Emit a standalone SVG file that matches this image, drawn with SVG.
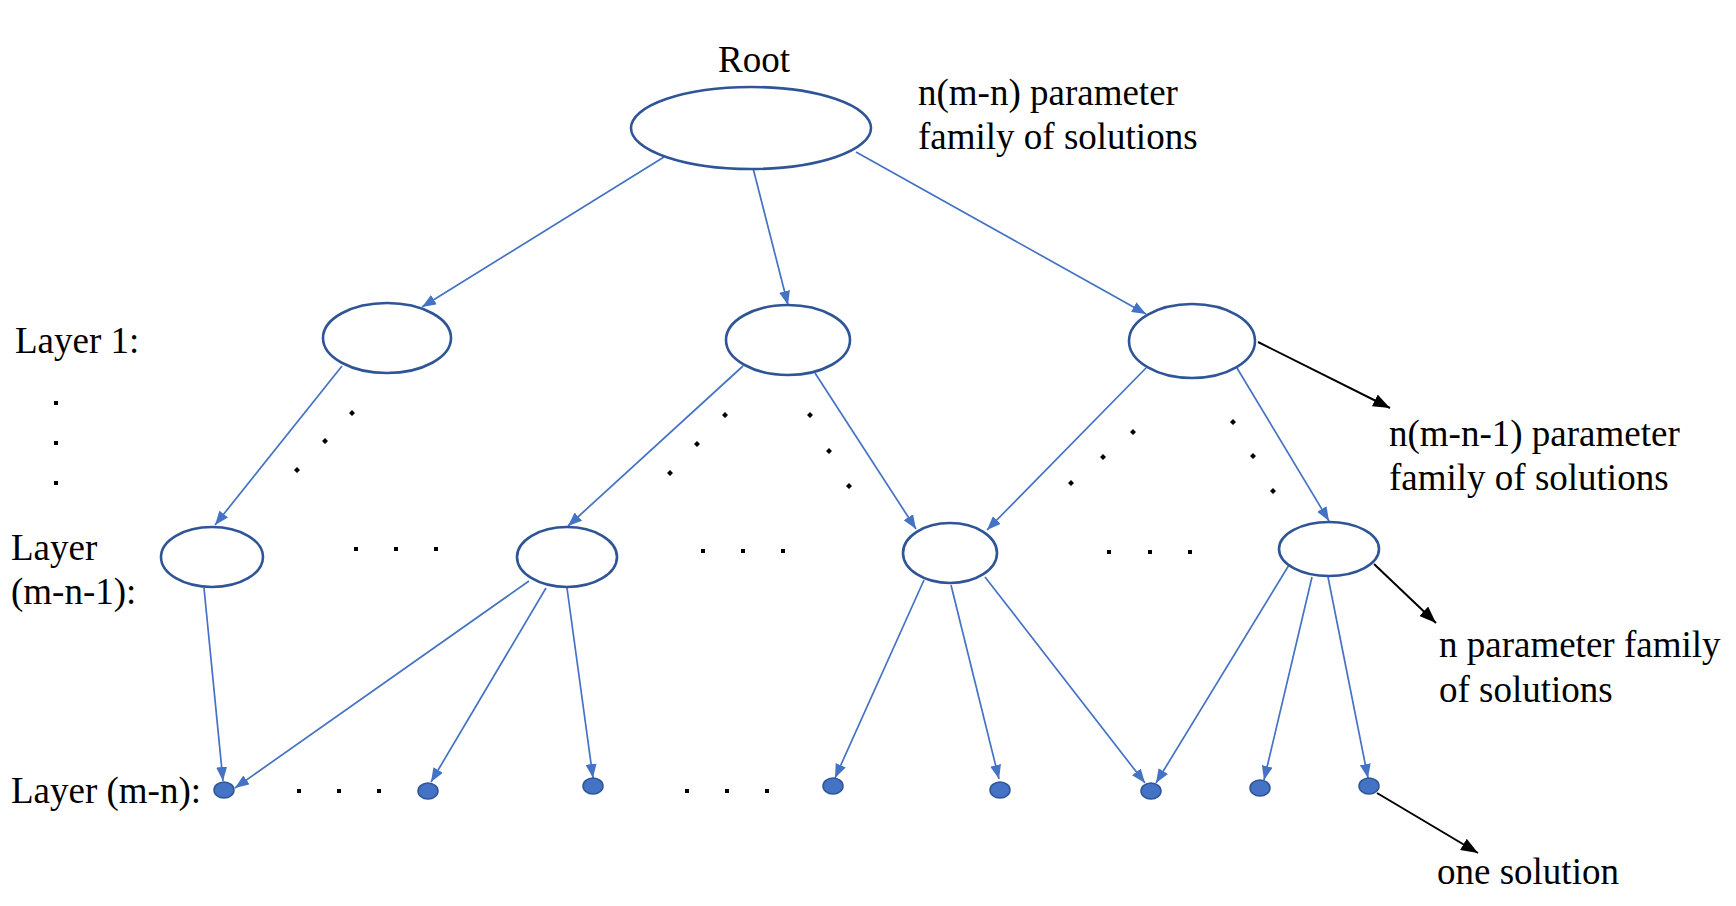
<svg xmlns="http://www.w3.org/2000/svg" width="1736" height="906" viewBox="0 0 1736 906">
<style>
.nd{fill:#ffffff;stroke:#2F5597;stroke-width:2.6}
.lf{fill:#4472C4;stroke:#2F5597;stroke-width:1.5}
.c{stroke:#4472C4;stroke-width:1.7;fill:none;marker-end:url(#ab)}
.k{stroke:#000;stroke-width:2;fill:none;marker-end:url(#ak)}
.t{font-family:"Liberation Serif","Times New Roman",serif;font-size:37px;fill:#000}
.d{fill:#000}
</style>
<defs>
<marker id="ab" markerUnits="userSpaceOnUse" markerWidth="15" markerHeight="11" refX="14" refY="5.5" orient="auto">
<path d="M0,0 L14,5.5 L0,11 z" fill="#4472C4"/>
</marker>
<marker id="ak" markerUnits="userSpaceOnUse" markerWidth="18" markerHeight="13" refX="17" refY="6.5" orient="auto">
<path d="M0,0 L17,6.5 L0,13 z" fill="#000"/>
</marker>
</defs>
<rect width="1736" height="906" fill="#fff"/>

<g id="connectors">
<line class="c" x1="664" y1="157" x2="422" y2="307"/>
<line class="c" x1="753" y1="168" x2="788" y2="305"/>
<line class="c" x1="856" y1="152" x2="1146" y2="314"/>
<line class="c" x1="342" y1="366" x2="215" y2="525"/>
<line class="c" x1="743" y1="366" x2="568" y2="526"/>
<line class="c" x1="815" y1="373" x2="916" y2="529"/>
<line class="c" x1="1146" y1="368" x2="987" y2="530"/>
<line class="c" x1="1237" y1="368" x2="1329" y2="521"/>
<line class="c" x1="204" y1="588" x2="223" y2="781"/>
<line class="c" x1="529" y1="581" x2="235" y2="788"/>
<line class="c" x1="546" y1="588" x2="431" y2="782"/>
<line class="c" x1="567" y1="588" x2="593" y2="778"/>
<line class="c" x1="924" y1="580" x2="835" y2="778"/>
<line class="c" x1="951" y1="585" x2="999" y2="779"/>
<line class="c" x1="985" y1="577" x2="1145" y2="783"/>
<line class="c" x1="1289" y1="565" x2="1156" y2="783"/>
<line class="c" x1="1312" y1="577" x2="1264" y2="780"/>
<line class="c" x1="1328" y1="577" x2="1368" y2="778"/>
<line class="k" x1="1258" y1="342" x2="1390" y2="408"/>
<line class="k" x1="1374" y1="564" x2="1436" y2="623"/>
<line class="k" x1="1377" y1="793" x2="1478" y2="853"/>
</g>

<g id="root"><ellipse class="nd" cx="751" cy="128" rx="120" ry="41"/></g>
<g id="l1a"><ellipse class="nd" cx="387" cy="338" rx="64" ry="35"/></g>
<g id="l1b"><ellipse class="nd" cx="788" cy="340" rx="62" ry="35"/></g>
<g id="l1c"><ellipse class="nd" cx="1192" cy="341" rx="63" ry="37"/></g>
<g id="l2a"><ellipse class="nd" cx="212" cy="557" rx="51" ry="30"/></g>
<g id="l2b"><ellipse class="nd" cx="567" cy="557" rx="50" ry="30"/></g>
<g id="l2c"><ellipse class="nd" cx="950" cy="553" rx="47" ry="30"/></g>
<g id="l2d"><ellipse class="nd" cx="1329" cy="549" rx="50" ry="27"/></g>

<g id="leaf1"><ellipse class="lf" cx="224" cy="790" rx="10" ry="8"/></g>
<g id="leaf2"><ellipse class="lf" cx="428" cy="791" rx="10" ry="8"/></g>
<g id="leaf3"><ellipse class="lf" cx="593" cy="786" rx="10" ry="8"/></g>
<g id="leaf4"><ellipse class="lf" cx="833" cy="786" rx="10" ry="8"/></g>
<g id="leaf5"><ellipse class="lf" cx="1000" cy="790" rx="10" ry="8"/></g>
<g id="leaf6"><ellipse class="lf" cx="1151" cy="791" rx="10" ry="8"/></g>
<g id="leaf7"><ellipse class="lf" cx="1260" cy="788" rx="10" ry="8"/></g>
<g id="leaf8"><ellipse class="lf" cx="1369" cy="786" rx="10" ry="8"/></g>

<g id="dots">
<rect class="d" x="54" y="401" width="4" height="4"/>
<rect class="d" x="54" y="441" width="4" height="4"/>
<rect class="d" x="54" y="481" width="4" height="4"/>
<path class="d" d="M352,410 l3,3 l-3,3 l-3,-3z M325,438 l3,3 l-3,3 l-3,-3z M297,467 l3,3 l-3,3 l-3,-3z"/>
<path class="d" d="M725,412 l3,3 l-3,3 l-3,-3z M697,441 l3,3 l-3,3 l-3,-3z M670,470 l3,3 l-3,3 l-3,-3z"/>
<path class="d" d="M810,412 l3,3 l-3,3 l-3,-3z M829,448 l3,3 l-3,3 l-3,-3z M849,483 l3,3 l-3,3 l-3,-3z"/>
<path class="d" d="M1133,429 l3,3 l-3,3 l-3,-3z M1103,454 l3,3 l-3,3 l-3,-3z M1071,480 l3,3 l-3,3 l-3,-3z"/>
<path class="d" d="M1233,419 l3,3 l-3,3 l-3,-3z M1253,453 l3,3 l-3,3 l-3,-3z M1273,488 l3,3 l-3,3 l-3,-3z"/>
<rect class="d" x="354" y="547" width="4" height="4"/>
<rect class="d" x="394" y="547" width="4" height="4"/>
<rect class="d" x="434" y="547" width="4" height="4"/>
<rect class="d" x="701" y="549" width="4" height="4"/>
<rect class="d" x="741" y="549" width="4" height="4"/>
<rect class="d" x="781" y="549" width="4" height="4"/>
<rect class="d" x="1107" y="550" width="4" height="4"/>
<rect class="d" x="1148" y="550" width="4" height="4"/>
<rect class="d" x="1188" y="550" width="4" height="4"/>
<rect class="d" x="297" y="789" width="4" height="4"/>
<rect class="d" x="337" y="789" width="4" height="4"/>
<rect class="d" x="377" y="789" width="4" height="4"/>
<rect class="d" x="685" y="789" width="4" height="4"/>
<rect class="d" x="725" y="789" width="4" height="4"/>
<rect class="d" x="765" y="789" width="4" height="4"/>
</g>

<g id="labels">
<text class="t" x="754" y="72" text-anchor="middle">Root</text>
<text class="t" x="918" y="105">n(m-n) parameter</text>
<text class="t" x="918" y="149">family of solutions</text>
<text class="t" x="15" y="353">Layer 1:</text>
<text class="t" x="11" y="560">Layer</text>
<text class="t" x="11" y="604">(m-n-1):</text>
<text class="t" x="11" y="803">Layer (m-n):</text>
<text class="t" x="1389" y="446">n(m-n-1) parameter</text>
<text class="t" x="1389" y="490">family of solutions</text>
<text class="t" x="1439" y="657">n parameter family</text>
<text class="t" x="1439" y="702">of solutions</text>
<text class="t" x="1437" y="884">one solution</text>
</g>
</svg>
